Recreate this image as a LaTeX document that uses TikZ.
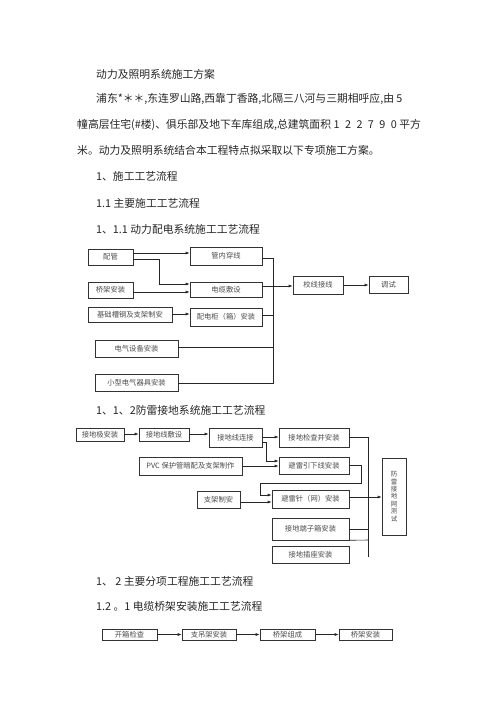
\documentclass[tikz,border=0pt]{standalone}
\usepackage{fontspec}
\newfontfamily\cjk{Noto Sans CJK SC}
\usetikzlibrary{arrows.meta}
\newcommand\dsp{\hspace{5.5pt}}
\begin{document}
\begin{tikzpicture}[x=1pt,y=-1pt,
  txt/.style={anchor=west,inner sep=0pt,font=\cjk\fontsize{10.8}{12}\selectfont,text=black!85},
  box/.style={draw=black!80,line width=0.6pt,inner sep=0pt,font=\cjk\fontsize{7.3}{8}\selectfont,text=black!70},
  ln/.style={draw=black!85,line width=0.6pt},
  arr/.style={ln,-{Latex[length=4pt,width=3pt]}}]
\useasboundingbox[fill=white] (0,0) rectangle (496,702);

% ---- body text ----
\node[txt] (t1) at (96,74) {动力及照明系统施工方案};
\node[txt] (t2) at (96,99) {浦东*＊＊,东连罗山路,西靠丁香路,北隔三八河与三期相呼应,由 5};
\node[txt] (t3) at (77,125) {幢高层住宅(\#楼)、俱乐部及地下车库组成,总建筑面积 1\dsp2\dsp2\dsp7\dsp9\dsp0 平方};
\node[txt] (t4) at (77,150) {米。动力及照明系统结合本工程特点拟采取以下专项施工方案。};
\node[txt] (t5) at (96,176) {1、施工工艺流程};
\node[txt] (t6) at (96,203) {1.1 主要施工工艺流程};
\node[txt] (t7) at (96,229) {1、1.1 动力配电系统施工工艺流程};
\node[txt] (t8) at (96,410) {1、1、2防雷接地系统施工工艺流程};
\node[txt] (t9) at (96,581) {1、 2 主要分项工程施工工艺流程};
\node[txt] (t10) at (96,606) {1.2 。1 电缆桥架安装施工工艺流程};

% ---- flowchart 1 ----
\node[box,minimum width=45,minimum height=16] (peiguan) at (110.5,257) {配管};
\node[box,minimum width=72,minimum height=18] (guannei) at (226,256) {管内穿线};
\node[box,minimum width=45,minimum height=16] (qiaojia) at (110.5,290) {桥架安装};
\node[box,minimum width=72,minimum height=15] (dianlan) at (226,289.5) {电缆敷设};
\node[box,minimum width=84,minimum height=15] (jichu) at (130,314.5) {基础槽钢及支架制安};
\node[box,minimum width=72,minimum height=18] (peidian) at (226,317) {配电柜（箱）安装};
\node[box,minimum width=83,minimum height=17] (dianqi) at (136.5,348.5) {电气设备安装};
\node[box,minimum width=83,minimum height=17] (xiaoxing) at (136.5,383) {小型电气器具安装};
\node[box,minimum width=50,minimum height=18] (jiaoxian) at (318,285) {校线接线};
\node[box,minimum width=39,minimum height=17] (tiaoshi) at (388.5,285) {调试};
\coordinate (busAtop) at (273,258);
\coordinate (busAbot) at (273,383);

\draw[arr] (peiguan.east |- 0,253) -- (guannei.west |- 0,253);
\draw[arr] (peiguan.east |- 0,259) -| (159,284) -- (dianlan.west |- 0,284);
\draw[arr] (qiaojia.east |- 0,292) -- (dianlan.west |- 0,292);
\draw[arr] (jichu.east |- 0,314) -- (peidian.west |- 0,314);
\draw[ln] (guannei.east |- busAtop) -- (busAtop) -- (busAbot) -- (xiaoxing.east |- busAbot);
\draw[ln] (peidian.east |- 0,315) -- (273,315);
\draw[ln] (dianqi.east |- 0,347) -- (273,347);
\draw[arr] (dianlan.east |- 0,286) -- (jiaoxian.west |- 0,286);
\draw[arr] (jiaoxian.east |- 0,285) -- (tiaoshi.west |- 0,285);

% ---- flowchart 2 ----
\node[box,minimum width=48,minimum height=13] (jdj) at (100,434.5) {接地极安装};
\node[box,minimum width=50,minimum height=13] (jdxfs) at (164,434.5) {接地线敷设};
\node[box,minimum width=53,minimum height=19] (jdxlj) at (235.5,437.5) {接地线连接};
\node[box,minimum width=70,minimum height=19] (jcj) at (314,437.5) {接地检查井安装};
\node[box,minimum width=70,minimum height=17] (blyx) at (314,465.5) {避雷引下线安装};
\node[box,minimum width=103,minimum height=18] (pvc) at (190.5,466) {PVC 保护管暗配及支架制作};
\node[box,minimum width=43,minimum height=17] (zjza) at (218.5,499.5) {支架制安};
\node[box,minimum width=77,minimum height=18] (blz) at (310.5,499) {避雷针（网）安装};
\node[box,minimum width=77,minimum height=22] (dzx) at (310.5,529) {接地端子箱安装};
\node[box,minimum width=77,minimum height=17] (czaz) at (310.5,554.5) {接地插座安装};
\node[box,minimum width=24,minimum height=77,align=center,font=\cjk\fontsize{6.5}{7.4}\selectfont] (test) at (394,496.5) {防\\雷\\接\\地\\网\\测\\试};
\coordinate (busBtop) at (368,437);
\coordinate (busBbot) at (368,557);

\draw[arr] (jdj.east |- 0,434) -- (jdxfs.west |- 0,434);
\draw[arr] (jdxfs.east |- 0,434) -- (jdxlj.west |- 0,434);
\draw[arr] (jdxlj.east |- 0,437) -- (jcj.west |- 0,437);
\draw[arr] (jdxlj.east |- 0,442) -| (266,461) -- (blyx.west |- 0,461);
\draw[arr] (pvc.east |- 0,466) -- (blyx.west |- 0,466);
\draw[arr] (blyx.east |- 0,465) -| (361,483) -| (260,495) -- (blz.west |- 0,495);
\draw[arr] (zjza.east |- 0,502) -- (blz.west |- 0,502);
\draw[arr] (blz.east |- 0,497) -- (test.west |- 0,497);
\draw[ln] (jcj.east |- busBtop) -- (busBtop) -- (busBbot);
\draw[ln] (dzx.east |- 0,529) -- (368,529);
\draw[ln] (dzx.south east) -- (368,540);

% ---- flowchart 3 ----
\node[box,minimum width=55,minimum height=11] (kx) at (129.5,634.5) {开箱检查};
\node[box,minimum width=54,minimum height=11] (zdj) at (209,634.5) {支吊架安装};
\node[box,minimum width=55,minimum height=11] (qjzc) at (287.5,634.5) {桥架组成};
\node[box,minimum width=53,minimum height=11] (qjaz) at (365.5,634.5) {桥架安装};
\draw[arr] (kx) -- (zdj);
\draw[arr] (zdj) -- (qjzc);
\draw[arr] (qjzc) -- (qjaz);
\end{tikzpicture}
\end{document}
